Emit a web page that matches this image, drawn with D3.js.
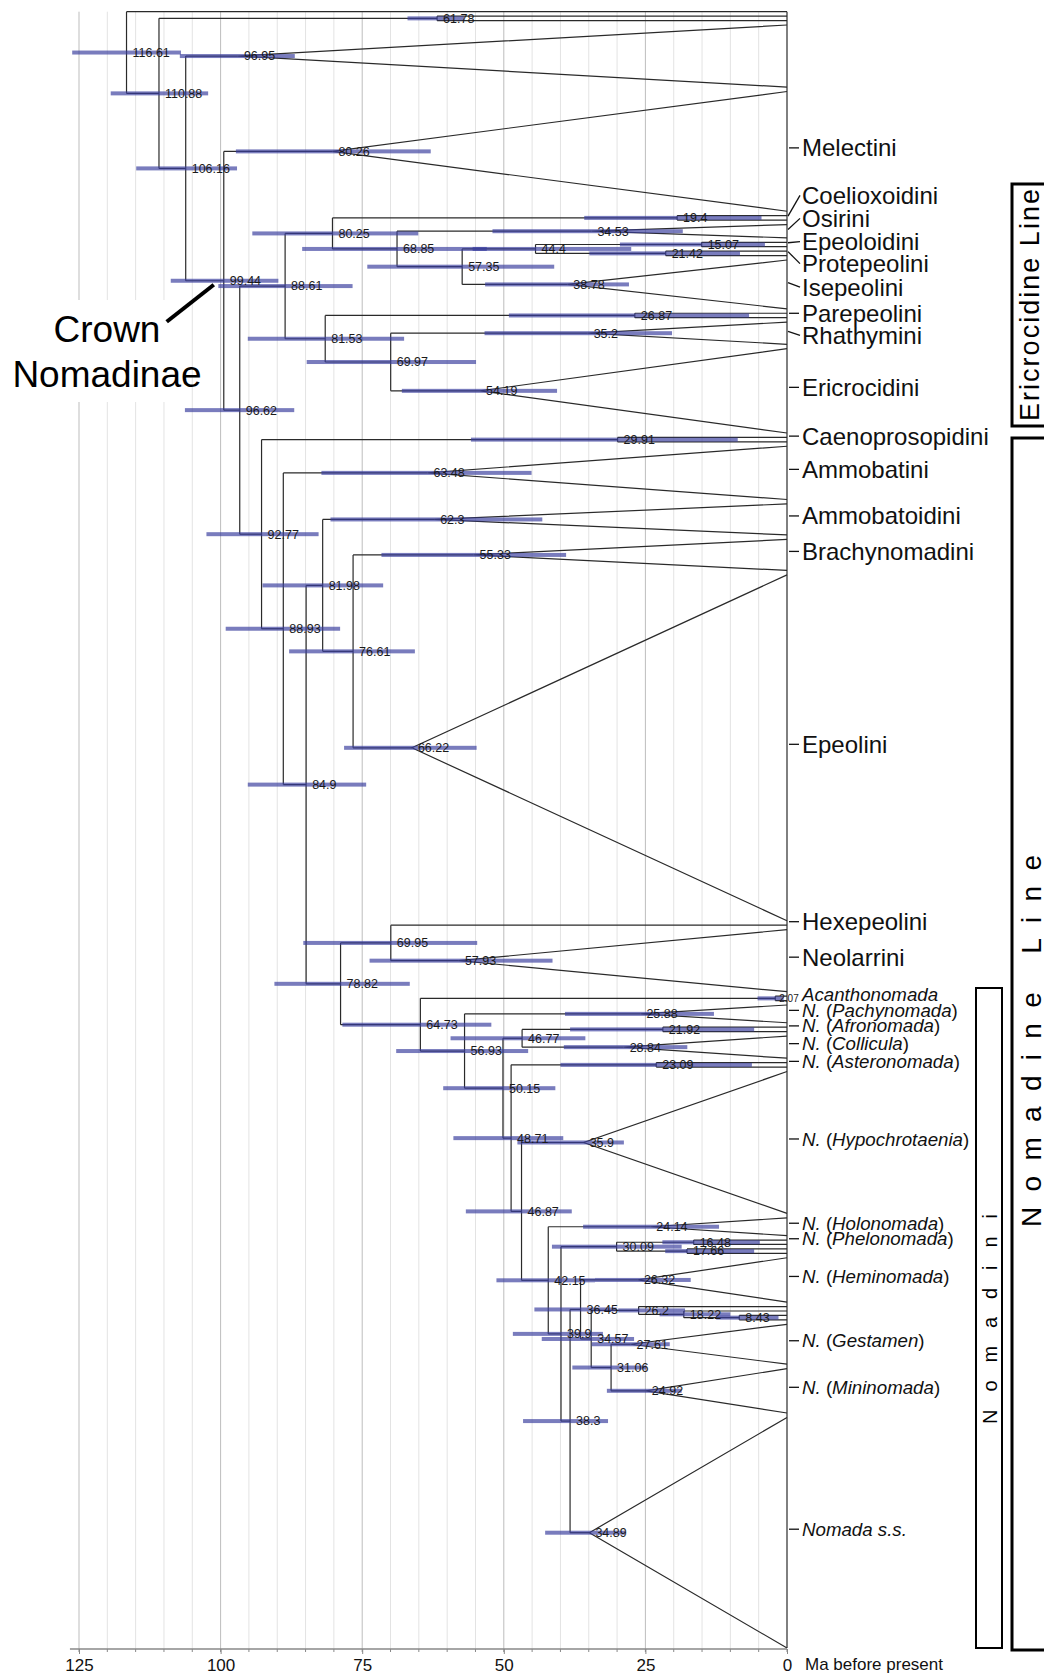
<!DOCTYPE html>
<html lang="en">
<head>
<meta charset="utf-8">
<title>Nomadinae chronogram</title>
<script src="https://cdn.jsdelivr.net/npm/d3@7"></script>
<style>
  body { margin: 0; background: #fff; }
  svg { display: block; font-family: "Liberation Sans", Arial, sans-serif; }
  .grid { stroke: #e3e3e3; stroke-width: 1; }
  .grid.major { stroke: #bdbdbd; }
  .branch { fill: none; stroke: #2a2a2a; stroke-width: 1.2; }
  .hpd { fill: rgba(58, 62, 158, 0.68); }
  .age { font-size: 12.5px; fill: #1a1a1a; }
  .tribe { font-size: 24px; fill: #111; }
  .sub { font-size: 18.7px; fill: #111; }
  .tick-mark { stroke: #111; stroke-width: 1.3; }
  .axis text { font-size: 17px; fill: #111; font-family: "Liberation Sans", Arial, sans-serif; }
  .axis path, .axis line { stroke: #888; }
</style>
</head>
<body>
<svg width="1044" height="1677"></svg>
<script>
// id, parent, node age (Ma), 95% HPD old, 95% HPD young, tips, shape
const tree = [
  ["root", null, 116.61, 126.2, 107.0],
  ["out1", "root", 0, null, null, 1, "fan"],
  ["n110", "root", 110.88, 119.4, 102.2],
  ["n61", "n110", 61.78, 67.0, 57.0, 2, "fan"],
  ["n106", "n110", 106.16, 114.9, 97.1],
  ["c96", "n106", 96.95, 107.2, 86.9, 15, "tri"],
  ["n99", "n106", 99.44, 108.8, 89.8],
  ["mel", "n99", 80.26, 97.3, 62.9, 28, "tri"],
  ["n96", "n99", 96.62, 106.3, 87.0],
  ["n88", "n96", 88.61, 100.4, 76.7],
  ["n80", "n88", 80.25, 94.4, 65.1],
  ["coe", "n80", 19.4, 35.8, 4.5, 2, "fan"],
  ["n68", "n80", 68.85, 85.6, 53.0],
  ["osi", "n68", 34.53, 52.0, 18.4, 4, "tri"],
  ["n57", "n68", 57.35, 74.1, 41.1],
  ["n44", "n57", 44.4, 55.5, 27.5],
  ["epo", "n44", 15.07, 29.5, 3.9, 2, "fan"],
  ["pro", "n44", 21.42, 34.9, 8.3, 2, "fan"],
  ["ise", "n57", 38.78, 53.3, 27.9, 12, "tri"],
  ["n81", "n88", 81.53, 95.2, 67.6],
  ["par", "n81", 26.87, 49.1, 6.7, 2, "fan"],
  ["n69", "n81", 69.97, 84.8, 54.9],
  ["rha", "n69", 35.2, 53.4, 20.3, 6, "tri"],
  ["eri", "n69", 54.19, 68.0, 40.6, 20, "tri"],
  ["n92", "n96", 92.77, 102.5, 82.7],
  ["cae", "n92", 29.91, 55.8, 8.7, 2, "fan"],
  ["n89", "n92", 88.93, 99.1, 78.9],
  ["amm", "n89", 63.48, 82.2, 45.1, 13, "tri"],
  ["n84", "n89", 84.9, 95.2, 74.3],
  ["n82", "n84", 81.98, 92.6, 71.3],
  ["amd", "n82", 62.3, 80.6, 43.2, 8, "tri"],
  ["n76", "n82", 76.61, 87.9, 65.7],
  ["bra", "n76", 55.33, 71.6, 39.0, 8, "tri"],
  ["epe", "n76", 66.22, 78.2, 54.8, 79, "tri"],
  ["n78", "n84", 78.82, 90.5, 66.6],
  ["n70", "n78", 69.95, 85.4, 54.7],
  ["hex", "n70", 0, null, null, 1, "fan"],
  ["neo", "n70", 57.93, 73.7, 41.4, 15, "tri"],
  ["n64", "n78", 64.73, 78.5, 52.2],
  ["aca", "n64", 2.07, 5.2, 0.6, 2, "fan"],
  ["n56", "n64", 56.93, 69.0, 45.7],
  ["pac", "n56", 25.88, 39.2, 12.9, 5, "tri"],
  ["n50", "n56", 50.15, 60.7, 40.9],
  ["n47", "n50", 46.77, 59.4, 35.6],
  ["afr", "n47", 21.92, 38.3, 5.8, 2, "fan"],
  ["col", "n47", 28.84, 39.4, 17.6, 6, "tri"],
  ["n48", "n50", 48.71, 58.9, 39.5],
  ["ast", "n48", 23.09, 40.0, 6.2, 2, "fan"],
  ["n46", "n48", 46.87, 56.7, 38.0],
  ["hyp", "n46", 35.9, 47.6, 28.8, 33, "tri"],
  ["n42", "n46", 42.15, 51.3, 33.9],
  ["hol", "n42", 24.14, 36.0, 12.0, 5, "tri"],
  ["n39", "n42", 39.9, 48.4, 32.5],
  ["phe", "n39", 30.09, 41.5, 18.6],
  ["phe1", "phe", 16.48, 22.0, 4.8, 2, "fan"],
  ["phe2", "phe", 17.66, 21.5, 5.8, 2, "fan"],
  ["n38", "n39", 38.3, 46.6, 31.6],
  ["n36", "n38", 36.45, 44.6, 30.1],
  ["hem", "n36", 26.32, 33.9, 17.0, 11, "tri"],
  ["n34", "n36", 34.57, 43.3, 27.0],
  ["n26", "n34", 26.2, 29.8, 18.0],
  ["lad1", "n26", 0, null, null, 1, "fan"],
  ["n18", "n26", 18.22, 22.5, 10.0],
  ["lad2", "n18", 0, null, null, 1, "fan"],
  ["n8", "n18", 8.43, 12.5, 1.5, 2, "fan"],
  ["n31", "n34", 31.06, 37.9, 24.8],
  ["ges", "n31", 27.61, 34.5, 20.7, 10, "tri"],
  ["min", "n31", 24.92, 31.8, 18.6, 11, "tri"],
  ["nom", "n38", 34.89, 42.7, 28.6, 53, "tri"]
];

// clade, label, offset of the label from the clade centre (tip rows), leader line?
const tribeLabels = [
  ["mel", "Melectini", 0, false],
  ["coe", "Coelioxoidini", -4.3, true],
  ["osi", "Osirini", -2.1, true],
  ["epo", "Epeoloidini", 0.15, true],
  ["pro", "Protepeolini", 3.1, true],
  ["ise", "Isepeolini", 1.4, true],
  ["par", "Parepeolini", 0.3, false],
  ["rha", "Rhathymini", 1.3, true],
  ["eri", "Ericrocidini", 0, false],
  ["cae", "Caenoprosopidini", 0, false],
  ["amm", "Ammobatini", 0, false],
  ["amd", "Ammobatoidini", 0, false],
  ["bra", "Brachynomadini", 0, false],
  ["epe", "Epeolini", 0, false],
  ["hex", "Hexepeolini", 0, false],
  ["neo", "Neolarrini", 0, false]
];

// clade, subgenus / genus name, offset, kind
const nomadaLabels = [
  ["aca", "Acanthonomada", 0, "genus"],
  ["pac", "Pachynomada", 0, "sub"],
  ["afr", "Afronomada", 0, "sub"],
  ["col", "Collicula", 0, "sub"],
  ["ast", "Asteronomada", 0, "sub"],
  ["hyp", "Hypochrotaenia", 0, "sub"],
  ["hol", "Holonomada", 0, "sub"],
  ["phe", "Phelonomada", -1, "sub"],
  ["hem", "Heminomada", 0, "sub"],
  ["ges", "Gestamen", 0, "sub"],
  ["min", "Mininomada", 0, "sub"],
  ["nom", "Nomada s.s.", 0, "genus"]
];

const xTicks = [125, 100, 75, 50, 25, 0];
const gridStep = 5;

const svg = d3.select("svg");
const x = d3.scaleLinear().domain([125, 0]).range([79, 787]);
const totalTips = d3.sum(tree, d => d[5] || 0);
const y = d3.scaleLinear().domain([0, totalTips - 1]).range([11.7, 1648]);
const axisY = 1649;

// build hierarchy and lay out tip rows
const root = d3.stratify().id(d => d[0]).parentId(d => d[1])(tree);
let row = 0;
root.eachBefore(n => {
  n.age = n.data[2] || 0;
  const tips = n.data[5];
  if (tips) {
    n.top = row;
    n.bottom = row + tips - 1;
    n.row = (n.top + n.bottom) / 2;
    row += tips;
  }
});
root.eachAfter(n => {
  if (n.children) n.row = (n.children[0].row + n.children[n.children.length - 1].row) / 2;
});
const byId = new Map(root.descendants().map(n => [n.id, n]));

// grid
svg.append("g").selectAll("line")
  .data(d3.range(125, 0, -gridStep))
  .join("line")
  .attr("class", d => d % 25 === 0 ? "grid major" : "grid")
  .attr("x1", d => x(d)).attr("x2", d => x(d))
  .attr("y1", y(0)).attr("y2", axisY);

// white panel behind the crown label
svg.append("rect").attr("x", 0).attr("y", 300).attr("width", 178).attr("height", 102).attr("fill", "#fff");

// branches
const gTree = svg.append("g");
const nodes = root.descendants();
gTree.selectAll("path.h")
  .data(nodes.filter(n => n.parent))
  .join("path").attr("class", "branch h")
  .attr("d", n => `M${x(n.parent.age)},${y(n.row)}H${x(n.age)}`);
gTree.selectAll("path.v")
  .data(nodes.filter(n => n.children))
  .join("path").attr("class", "branch v")
  .attr("d", n => `M${x(n.age)},${y(n.children[0].row)}V${y(n.children[n.children.length - 1].row)}`);

const fans = nodes.filter(n => n.data[6] === "fan" && n.data[5] > 1);
gTree.selectAll("path.fan")
  .data(fans)
  .join("path").attr("class", "branch fan")
  .attr("d", n => {
    let d = `M${x(n.age)},${y(n.top)}V${y(n.bottom)}`;
    for (let r = n.top; r <= n.bottom; r++) d += `M${x(n.age)},${y(r)}H${x(0)}`;
    return d;
  });

const tris = nodes.filter(n => n.data[6] === "tri");
gTree.selectAll("path.tri")
  .data(tris)
  .join("path").attr("class", "branch tri")
  .attr("d", n => `M${x(0)},${y(n.top)}L${x(n.age)},${y(n.row)}L${x(0)},${y(n.bottom)}`);

gTree.append("path").attr("class", "branch")
  .attr("d", `M${x(0)},${y(0)}V${y(totalTips - 1)}`);

// HPD bars
const dated = nodes.filter(n => n.data[3] != null);
svg.append("g").selectAll("rect")
  .data(dated)
  .join("rect").attr("class", "hpd")
  .attr("x", n => x(n.data[3]))
  .attr("width", n => x(n.data[4]) - x(n.data[3]))
  .attr("y", n => y(n.row) - 2)
  .attr("height", 4);

// node ages
svg.append("g").selectAll("text")
  .data(dated)
  .join("text").attr("class", "age")
  .attr("x", n => x(n.age) + (n.age < 5 ? 4 : 6))
  .attr("y", n => y(n.row))
  .attr("dy", "0.35em")
  .style("font-size", n => n.age < 5 ? "10px" : null)
  .text(n => String(n.age));

// tip labels
const gLab = svg.append("g");
const labX = x(0) + 15;
const lift = 3.5;
function marker(n, shift, lead) {
  const ty = y(n.row + shift) - lift;
  if (!lead) {
    gLab.append("line").attr("class", "tick-mark")
      .attr("x1", x(0) + 2).attr("x2", x(0) + 12).attr("y1", ty).attr("y2", ty);
  } else {
    gLab.append("line").attr("class", "tick-mark")
      .attr("x1", x(0) + 1).attr("x2", x(0) + 13).attr("y1", y(n.row) - lift / 2).attr("y2", ty);
  }
  return ty;
}
tribeLabels.forEach(([id, name, shift, lead]) => {
  const n = byId.get(id);
  const ty = marker(n, shift, lead);
  gLab.append("text").attr("class", "tribe")
    .attr("x", labX).attr("y", ty).attr("dy", "0.35em").text(name);
});
nomadaLabels.forEach(([id, name, shift, kind]) => {
  const n = byId.get(id);
  let ty;
  if (id === "aca") ty = y(n.row + shift) - lift;
  else ty = marker(n, shift, false);
  const t = gLab.append("text").attr("class", "sub")
    .attr("x", labX).attr("y", ty).attr("dy", "0.35em");
  if (kind === "genus") {
    t.append("tspan").style("font-style", "italic").text(name);
  } else {
    t.append("tspan").style("font-style", "italic").text("N.");
    t.append("tspan").text(" (");
    t.append("tspan").style("font-style", "italic").text(name);
    t.append("tspan").text(")");
  }
});

// crown label
const crown = byId.get("n99");
svg.append("text").attr("x", 107).attr("y", 342).attr("text-anchor", "middle")
  .style("font-size", "37px").text("Crown");
svg.append("text").attr("x", 107).attr("y", 387).attr("text-anchor", "middle")
  .style("font-size", "37px").text("Nomadinae");
svg.append("line")
  .attr("x1", 166.7).attr("y1", 321.7)
  .attr("x2", x(crown.age) - 10).attr("y2", y(crown.row) + 4)
  .attr("stroke", "#000").attr("stroke-width", 4);

// group brackets
function bracket(bx, by0, by1, w, sw, label, fs, cx, cy, len) {
  svg.append("rect").attr("x", bx).attr("y", by0).attr("width", w).attr("height", by1 - by0)
    .attr("fill", "none").attr("stroke", "#000").attr("stroke-width", sw);
  svg.append("text")
    .attr("transform", `translate(${cx},${cy}) rotate(-90)`)
    .attr("text-anchor", "middle").attr("dy", "0.35em")
    .attr("textLength", len).attr("lengthAdjust", "spacing")
    .style("font-size", fs + "px").text(label);
}
bracket(1012, 184, 426, 60, 3, "Ericrocidine Line", 27, 1030, 305, 232);
bracket(1012, 438, 1650, 60, 3, "Nomadine Line", 28, 1031, 1041, 372);
bracket(976, 988, 1648, 26, 2, "Nomadini", 20, 990, 1319, 210);

// time axis
const minor = d3.range(125, -1, -gridStep);
const gAx = svg.append("g").attr("class", "axis").attr("transform", `translate(0,${axisY})`);
gAx.call(d3.axisBottom(x).tickValues(xTicks).tickSize(5).tickPadding(5).tickFormat(d3.format("d")));
gAx.select(".domain").remove();
gAx.append("line").attr("x1", x(126.6)).attr("x2", x(0)).attr("stroke", "#888").attr("stroke-width", 1.5);
gAx.selectAll("line.minor").data(minor).join("line").attr("class", "minor")
  .attr("x1", d => x(d)).attr("x2", d => x(d)).attr("y1", 0).attr("y2", 3);
gAx.append("text").attr("x", x(0) + 18).attr("y", 9).attr("dy", "0.71em")
  .attr("text-anchor", "start").text("Ma before present");
</script>
</body>
</html>
